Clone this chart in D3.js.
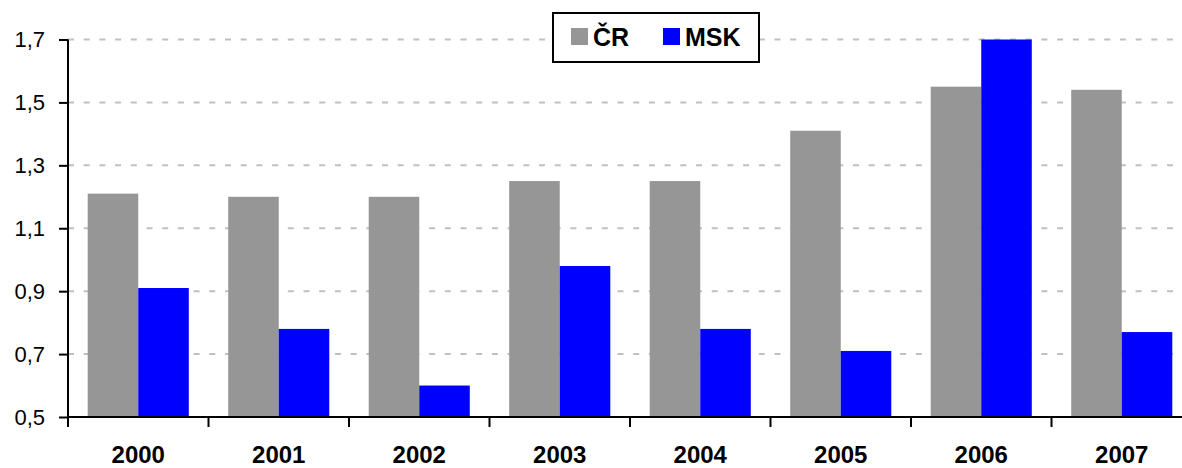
<!DOCTYPE html>
<html>
<head>
<meta charset="utf-8">
<script src="https://cdn.jsdelivr.net/npm/d3@7"></script>
<style>
  body { margin: 0; background: #fff; }
  text { font-family: "Liberation Sans", Arial, sans-serif; }
</style>
</head>
<body>
<script>
// data
var years = ['2000', '2001', '2002', '2003', '2004', '2005', '2006', '2007'];
var series = ['ČR', 'MSK'];
var cr  = [1.21, 1.20, 1.20, 1.25, 1.25, 1.41, 1.55, 1.54];
var msk = [0.91, 0.78, 0.60, 0.98, 0.78, 0.71, 1.70, 0.77];
var yTicks = [0.5, 0.7, 0.9, 1.1, 1.3, 1.5, 1.7];
var colors = ['#969696', '#0000ff'];

var W = 1182, H = 468;
var plotLeft = 68, plotRight = 1192, plotTop = 39.5, plotBottom = 417;

var svg = d3.select('body').append('svg')
    .attr('width', W)
    .attr('height', H);

var x0 = d3.scaleBand().domain(years).range([plotLeft, plotRight]).padding(0);
var x1 = d3.scaleBand().domain(series).range([0, x0.bandwidth()]).paddingOuter(0.39);
var y = d3.scaleLinear().domain([0.5, 1.7]).range([plotBottom, plotTop]);

var fmt = d3.formatLocale({decimal: ',', thousands: ' ', grouping: [3], currency: ['', ' Kč']}).format('.1f');

// gridlines
svg.append('g')
    .selectAll('line')
    .data(yTicks.slice(1))
    .join('line')
    .attr('x1', plotLeft)
    .attr('x2', W)
    .attr('y1', function(d) { return y(d); })
    .attr('y2', function(d) { return y(d); })
    .attr('stroke', '#c0c0c0')
    .attr('stroke-width', 2)
    .attr('stroke-dasharray', '6,9.7');

// bars
var rows = years.map(function(yr, i) { return {year: yr, vals: [cr[i], msk[i]]}; });
var groups = svg.append('g')
    .selectAll('g')
    .data(rows)
    .join('g')
    .attr('transform', function(d) { return 'translate(' + x0(d.year) + ',0)'; });

groups.selectAll('rect')
    .data(function(d) { return d.vals.map(function(v, k) { return {key: series[k], v: v, k: k}; }); })
    .join('rect')
    .attr('x', function(d) { return x1(d.key); })
    .attr('width', x1.bandwidth())
    .attr('y', function(d) { return y(d.v); })
    .attr('height', function(d) { return y(0.5) - y(d.v); })
    .attr('fill', function(d) { return colors[d.k]; });

// y axis
var yAxis = svg.append('g')
    .attr('transform', 'translate(' + plotLeft + ',0)')
    .call(d3.axisLeft(y).tickValues(yTicks).tickFormat(fmt).tickSize(9).tickPadding(14));
yAxis.select('.domain').attr('stroke', '#000').attr('stroke-width', 2).attr('d', 'M0,' + plotTop + 'V' + plotBottom);
yAxis.selectAll('.tick line').attr('stroke', '#000').attr('stroke-width', 2);
yAxis.selectAll('.tick text').attr('font-size', 22).attr('fill', '#000').attr('font-family', '"Liberation Sans", Arial, sans-serif');

// x axis
var xAxis = svg.append('g')
    .attr('transform', 'translate(0,' + plotBottom + ')')
    .call(d3.axisBottom(x0).tickSize(0).tickPadding(29));
xAxis.select('.domain').attr('stroke', '#000').attr('stroke-width', 2).attr('d', 'M' + (plotLeft - 1) + ',0H' + W);
xAxis.selectAll('.tick text').attr('font-size', 24).attr('font-weight', 'bold').attr('fill', '#000')
    .attr('font-family', '"Liberation Sans", Arial, sans-serif');

// boundary ticks on x axis
xAxis.append('g')
    .selectAll('line')
    .data(years)
    .join('line')
    .attr('x1', function(d) { return x0(d); })
    .attr('x2', function(d) { return x0(d); })
    .attr('y1', 0)
    .attr('y2', 10)
    .attr('stroke', '#000')
    .attr('stroke-width', 2);

// legend
var legend = svg.append('g').attr('transform', 'translate(553,13)');
legend.append('rect')
    .attr('width', 206)
    .attr('height', 49)
    .attr('fill', '#fff')
    .attr('stroke', '#000')
    .attr('stroke-width', 2);
var legendX = [18, 110];
series.forEach(function(s, i) {
    legend.append('rect')
        .attr('x', legendX[i])
        .attr('y', 15)
        .attr('width', 17)
        .attr('height', 17)
        .attr('fill', colors[i]);
    legend.append('text')
        .attr('x', legendX[i] + 22)
        .attr('y', 33)
        .attr('font-size', 25)
        .attr('font-weight', 'bold')
        .text(s);
});
</script>
</body>
</html>
